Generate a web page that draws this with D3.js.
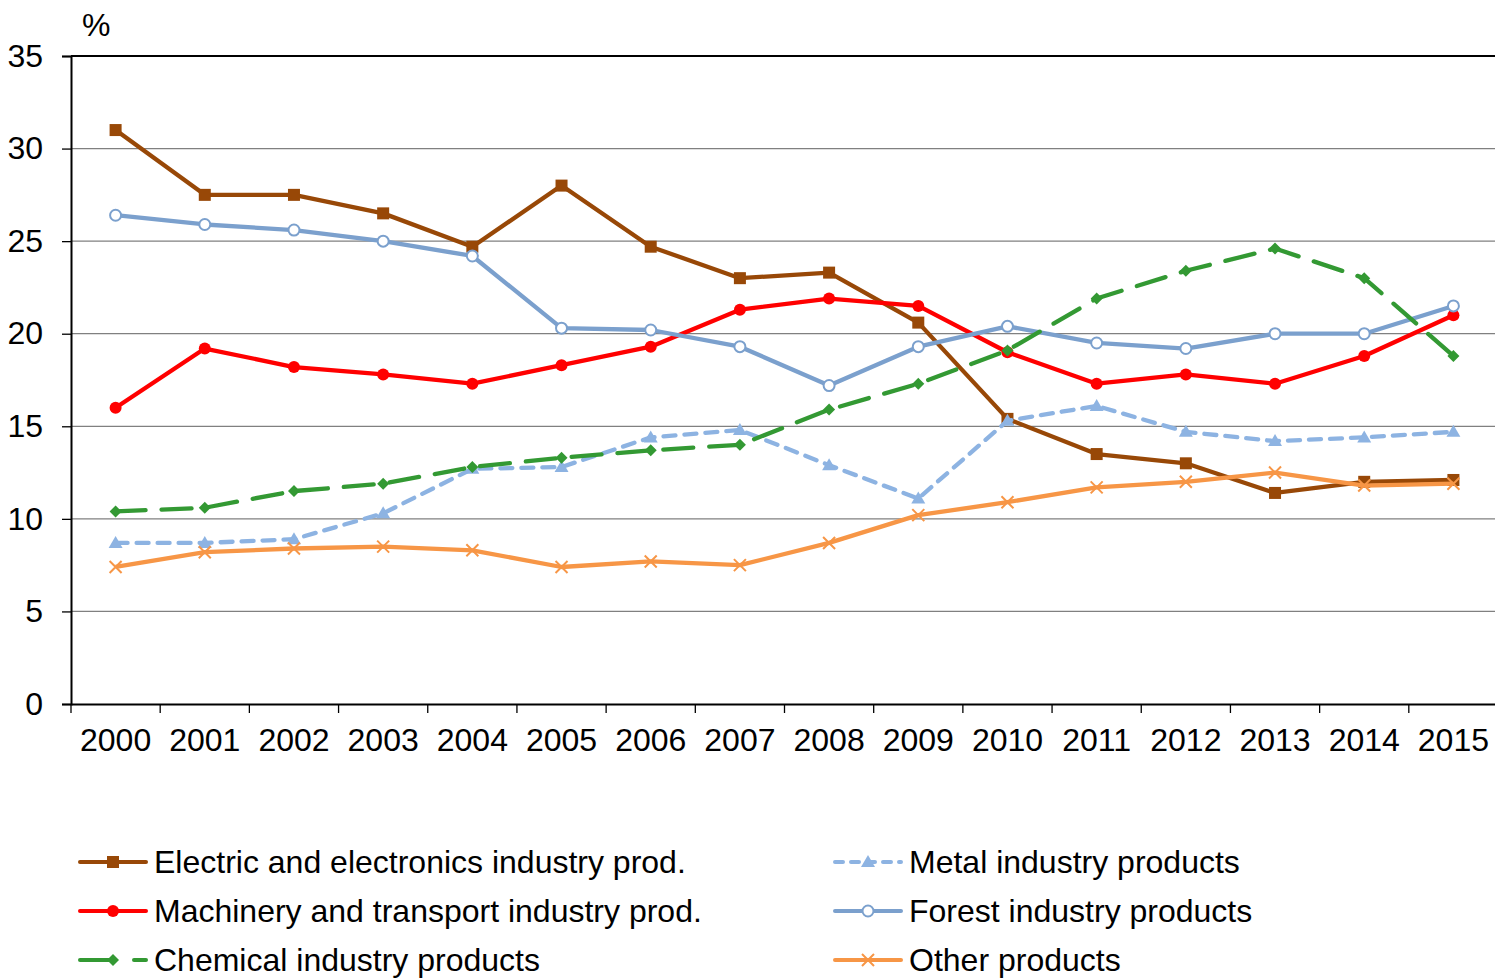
<!DOCTYPE html>
<html><head><meta charset="utf-8">
<script src="https://cdn.jsdelivr.net/npm/d3@7"></script>
<style>body{margin:0;background:#fff}svg{display:block}text{font-family:"Liberation Sans",Arial,sans-serif;fill:#000}</style>
</head><body><svg id="c" width="1495" height="979"></svg>
<script>
const years = ["2000","2001","2002","2003","2004","2005","2006","2007","2008","2009","2010","2011","2012","2013","2014","2015"];
const yTicks = [0,5,10,15,20,25,30,35];
const electric  = [31.0,27.5,27.5,26.5,24.7,28.0,24.7,23.0,23.3,20.6,15.4,13.5,13.0,11.4,12.0,12.1];
const machinery = [16.0,19.2,18.2,17.8,17.3,18.3,19.3,21.3,21.9,21.5,19.0,17.3,17.8,17.3,18.8,21.0];
const chemical  = [10.4,10.6,11.5,11.9,12.8,13.3,13.7,14.0,15.9,17.3,19.1,21.9,23.4,24.6,23.0,18.8];
const metal     = [8.7,8.7,8.9,10.3,12.7,12.8,14.4,14.8,12.9,11.1,15.3,16.1,14.7,14.2,14.4,14.7];
const forest    = [26.4,25.9,25.6,25.0,24.2,20.3,20.2,19.3,17.2,19.3,20.4,19.5,19.2,20.0,20.0,21.5];
const other     = [7.4,8.2,8.4,8.5,8.3,7.4,7.7,7.5,8.7,10.2,10.9,11.7,12.0,12.5,11.8,11.9];

const series = [
  {name:"Electric and electronics industry prod.", values:electric, color:"#984807", dash:null, marker:"square", col:0,row:0},
  {name:"Machinery and transport industry prod.", values:machinery, color:"#ff0000", dash:null, marker:"circle", col:0,row:1},
  {name:"Metal industry products", values:metal, color:"#8db3e2", dash:"12,9", marker:"triangle", col:1,row:0},
  {name:"Forest industry products", values:forest, color:"#7ba0cd", dash:null, marker:"ocircle", col:1,row:1},
  {name:"Chemical industry products", values:chemical, color:"#339933", dash:"30,16", marker:"diamond", col:0,row:2},
  {name:"Other products", values:other, color:"#f79646", dash:null, marker:"x", col:1,row:2}
];

const FS = "32px";
const svg = d3.select("#c");
const L=71, R=1498, T=56, B=704;
const x = d3.scaleBand().domain(years).range([L,R]);
const y = d3.scaleLinear().domain([0,35]).range([B,T]);
const cx = d => x(d)+x.bandwidth()/2;

// grid
svg.append("g").selectAll("line").data(yTicks.filter(t=>t>0&&t<35)).join("line")
  .attr("x1",L).attr("x2",1495).attr("y1",d=>y(d)).attr("y2",d=>y(d))
  .attr("stroke","#808080").attr("stroke-width",1.3);
svg.append("line").attr("x1",L).attr("x2",1495).attr("y1",y(35)).attr("y2",y(35)).attr("stroke","#000").attr("stroke-width",2);

// y axis
const ya = svg.append("g").attr("transform",`translate(${L},0)`)
  .call(d3.axisLeft(y).tickValues(yTicks).tickSize(9).tickPadding(19));
ya.select(".domain").attr("stroke","#000").attr("stroke-width",2);
ya.selectAll(".tick line").attr("stroke","#000").attr("stroke-width",1.3);
ya.selectAll("text").style("font-size",FS).attr("font-family",null);

// x axis
const xa = svg.append("g").attr("transform",`translate(0,${B})`)
  .call(d3.axisBottom(x).tickSize(0).tickPadding(24));
xa.select(".domain").attr("stroke","#000").attr("stroke-width",2);
xa.selectAll("text").style("font-size",FS).attr("font-family",null);
svg.append("g").selectAll("line").data(years.concat(["end"])).join("line")
  .attr("x1",(d,i)=>L+i*x.bandwidth()).attr("x2",(d,i)=>L+i*x.bandwidth())
  .attr("y1",B).attr("y2",B+9).attr("stroke","#000").attr("stroke-width",1.3);

svg.append("text").attr("x",82).attr("y",36).style("font-size",FS).text("%");

function marker(g, type, color, px, py){
  if(type==="square") g.append("rect").attr("x",px-6).attr("y",py-6).attr("width",12).attr("height",12).attr("fill",color);
  else if(type==="circle") g.append("circle").attr("cx",px).attr("cy",py).attr("r",6).attr("fill",color);
  else if(type==="ocircle") g.append("circle").attr("cx",px).attr("cy",py).attr("r",5.5).attr("fill","#fff").attr("stroke",color).attr("stroke-width",2);
  else if(type==="triangle") g.append("path").attr("d",`M${px},${py-7}L${px+7},${py+5}L${px-7},${py+5}Z`).attr("fill",color);
  else if(type==="diamond") g.append("path").attr("d",`M${px},${py-6}L${px+6},${py}L${px},${py+6}L${px-6},${py}Z`).attr("fill",color);
  else if(type==="x") g.append("path").attr("d",`M${px-6},${py-6}L${px+6},${py+6}M${px+6},${py-6}L${px-6},${py+6}`).attr("stroke",color).attr("stroke-width",2).attr("fill","none");
}

const line = d3.line().x((d,i)=>cx(years[i])).y(d=>y(d));
series.forEach(s=>{
  const g = svg.append("g");
  g.append("path").attr("d",line(s.values)).attr("fill","none").attr("stroke",s.color)
    .attr("stroke-width",4.3).attr("stroke-linejoin","round").attr("stroke-linecap",s.dash?"round":"butt")
    .attr("stroke-dasharray",s.dash);
  s.values.forEach((v,i)=>marker(g,s.marker,s.color,cx(years[i]),y(v)));
});

// legend
series.forEach(s=>{
  const lx = s.col===0?78:833, ly = 862+s.row*49;
  const g = svg.append("g");
  if(s.marker==="diamond"){
    g.append("line").attr("x1",lx+2).attr("x2",lx+36).attr("y1",ly).attr("y2",ly).attr("stroke",s.color).attr("stroke-width",4).attr("stroke-linecap","round");
    g.append("line").attr("x1",lx+56).attr("x2",lx+68).attr("y1",ly).attr("y2",ly).attr("stroke",s.color).attr("stroke-width",4).attr("stroke-linecap","round");
  } else {
    g.append("line").attr("x1",lx+2).attr("x2",lx+68).attr("y1",ly).attr("y2",ly).attr("stroke",s.color).attr("stroke-width",4)
      .attr("stroke-linecap","round").attr("stroke-dasharray",s.dash?"8,8":null);
  }
  marker(g,s.marker,s.color,lx+35,ly);
  g.append("text").attr("x",lx+76).attr("y",ly+11).style("font-size",FS).text(s.name);
});
</script></body></html>
